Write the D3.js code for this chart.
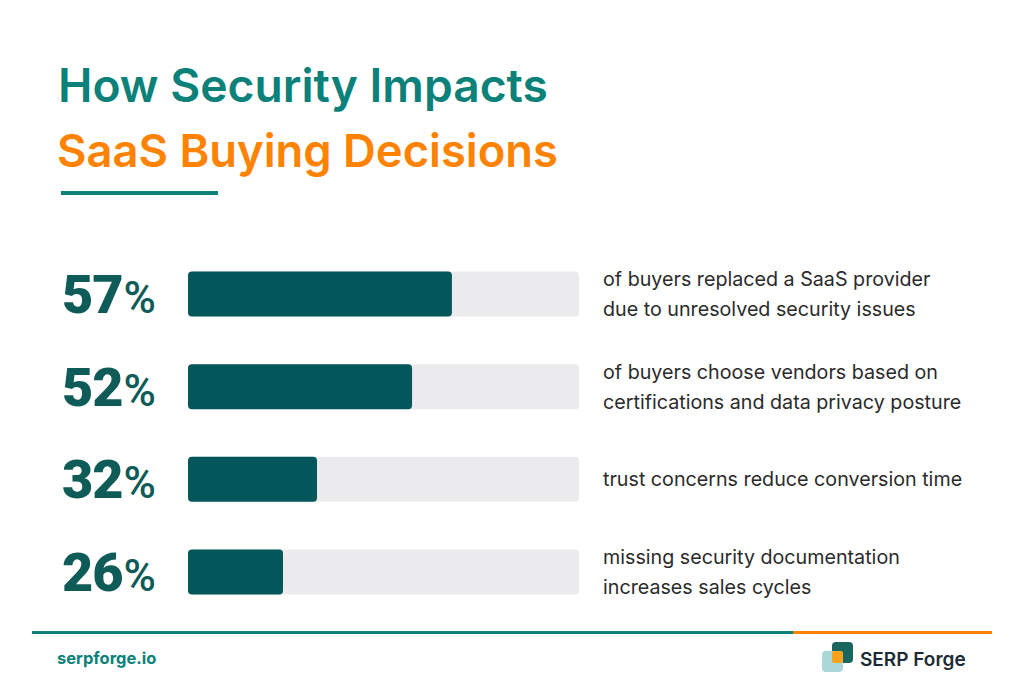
<!DOCTYPE html>
<html>
<head>
<meta charset="utf-8">
<script src="https://cdn.jsdelivr.net/npm/d3@7/dist/d3.min.js"></script>
<style>
  html, body { margin: 0; padding: 0; background: #ffffff; }
  svg { display: block; }
</style>
</head>
<body>
<svg id="chart" width="1024" height="683"></svg>
<script>
// ---- data ----
const categories = ["replaced", "certifications", "trust", "documentation"];
const values = [57, 52, 32, 26];                     // headline percentages
const percentLabels = ["57%", "52%", "32%", "26%"];
const barFill = [67.5, 57.3, 33.0, 24.3];            // drawn fill of each track (% of track)
const descriptions = [
  ["of buyers replaced a SaaS provider", "due to unresolved security issues"],
  ["of buyers choose vendors based on", "certifications and data privacy posture"],
  ["trust concerns reduce conversion time"],
  ["missing security documentation", "increases sales cycles"]
];
const titleLine1 = "How Security Impacts";
const titleLine2 = "SaaS Buying Decisions";
const footerLeft = "serpforge.io";
const footerRight = "SERP Forge";

// ---- styles ----
const TEAL = "#0b817a", ORANGE = "#ff8200", BAR = "#03575a", TRACK = "#ebebed",
      PCT = "#0f5b58", TEXT = "#2b2b2b", DARK = "#1c2b33";
const FONT = "Inter, 'Noto Sans', sans-serif";
const NUMFONT = "Roboto, Inter, sans-serif";

const svg = d3.select("#chart");

function fitText(sel, target) {
  const w = sel.node().getComputedTextLength();
  const fs = parseFloat(sel.attr("font-size"));
  sel.attr("font-size", fs * target / w);
}
const t1 = svg.append("text").attr("x", 58).attr("y", 102)
  .attr("font-family", FONT).attr("font-weight", 600).attr("font-size", 46)
  .attr("fill", TEAL).text(titleLine1);
fitText(t1, 490);
const t2 = svg.append("text").attr("x", 57).attr("y", 167)
  .attr("font-family", FONT).attr("font-weight", 600).attr("font-size", 46)
  .attr("fill", ORANGE).text(titleLine2);
fitText(t2, 501);
svg.append("rect").attr("x", 61).attr("y", 191).attr("width", 157).attr("height", 4).attr("fill", TEAL);

// scales
const y = d3.scalePoint().domain(categories).range([294, 572]);
const x = d3.scaleLinear().domain([0, 100]).range([188, 579]);
const barH = 45;

const rows = svg.append("g").selectAll("g").data(categories).join("g")
  .attr("transform", d => `translate(0,${y(d)})`);

rows.append("rect")
  .attr("x", x(0)).attr("y", -barH / 2)
  .attr("width", x(100) - x(0)).attr("height", barH)
  .attr("rx", 4).attr("fill", TRACK);

rows.append("rect")
  .attr("x", x(0)).attr("y", -barH / 2)
  .attr("width", (d, i) => x(barFill[i]) - x(0)).attr("height", barH)
  .attr("rx", 4).attr("fill", BAR);

// percentage labels
rows.each(function (d, i) {
  const g = d3.select(this);
  const num = percentLabels[i].replace("%", "");
  const t = g.append("text").attr("x", 62).attr("y", 19)
    .attr("font-family", NUMFONT).attr("font-weight", 900).attr("font-size", 54)
    .attr("fill", PCT);
  t.append("tspan").attr("letter-spacing", -1).text(num);
  t.append("tspan").attr("font-weight", 500).attr("font-size", 44).attr("dx", 1).text("%");
});

// descriptions
rows.each(function (d, i) {
  const lines = descriptions[i];
  const g = d3.select(this);
  const lh = 30;
  const start = 7 - (lines.length - 1) * lh / 2;
  lines.forEach((ln, k) => {
    g.append("text").attr("x", 603).attr("y", start + k * lh)
      .attr("font-family", FONT).attr("font-weight", 400).attr("font-size", 19.7)
      .attr("fill", TEXT).text(ln);
  });
});

// footer line
svg.append("rect").attr("x", 32).attr("y", 631).attr("width", 761).attr("height", 3).attr("fill", TEAL);
svg.append("rect").attr("x", 793).attr("y", 631).attr("width", 199).attr("height", 3).attr("fill", ORANGE);

svg.append("text").attr("x", 57).attr("y", 664)
  .attr("font-family", FONT).attr("font-weight", 700).attr("font-size", 16.5)
  .attr("fill", TEAL).text(footerLeft);

// logo
const logo = svg.append("g");
logo.append("rect").attr("x", 832).attr("y", 642).attr("width", 21).attr("height", 21).attr("rx", 4).attr("fill", "#17665f");
logo.append("rect").attr("x", 822).attr("y", 651).attr("width", 21).attr("height", 21).attr("rx", 4).attr("fill", "#aad8d6");
logo.append("rect").attr("x", 832).attr("y", 651).attr("width", 11).attr("height", 12).attr("rx", 2).attr("fill", "#f7a21b");
svg.append("text").attr("x", 860).attr("y", 666)
  .attr("font-family", FONT).attr("font-weight", 600).attr("font-size", 19)
  .attr("fill", DARK).text(footerRight);
</script>
</body>
</html>
